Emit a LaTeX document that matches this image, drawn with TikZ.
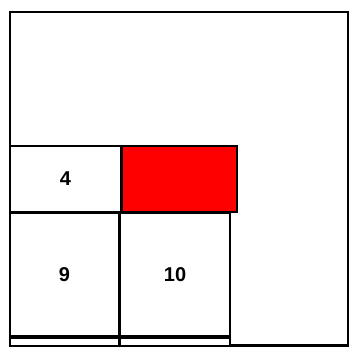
\documentclass[tikz,border=0pt]{standalone}
\usepackage{fontspec}
\setmainfont{Liberation Sans}
\begin{document}
\begin{tikzpicture}[x=1pt,y=-1pt,
  cell/.style={draw=black,line width=2pt,fill=white,inner sep=0pt,font=\fontsize{20}{24}\selectfont\bfseries},
  hot/.style={cell,fill=red}]
\useasboundingbox (0,0) rectangle (350,347);
\node[draw=black,line width=2pt,inner sep=0pt,minimum width=338pt,minimum height=333pt] (frame) at (178.5,178.5) {};
\node[cell,minimum width=111pt,minimum height=66pt] (c4) at (65.5,179) {4};
\node[hot,minimum width=115pt,minimum height=66pt] (cr) at (179.5,179) {};
\node[cell,minimum width=109pt,minimum height=123pt] (c9) at (64.5,274.5) {9};
\node[cell,minimum width=110pt,minimum height=123pt] (c10) at (175,274.5) {10};
\node[cell,minimum width=109pt,minimum height=8pt] (c14) at (64.5,342) {};
\node[cell,minimum width=110pt,minimum height=8pt] (c15) at (175,342) {};
\draw[line width=2pt] (frame.south west) -- (frame.south east);
\end{tikzpicture}
\end{document}
